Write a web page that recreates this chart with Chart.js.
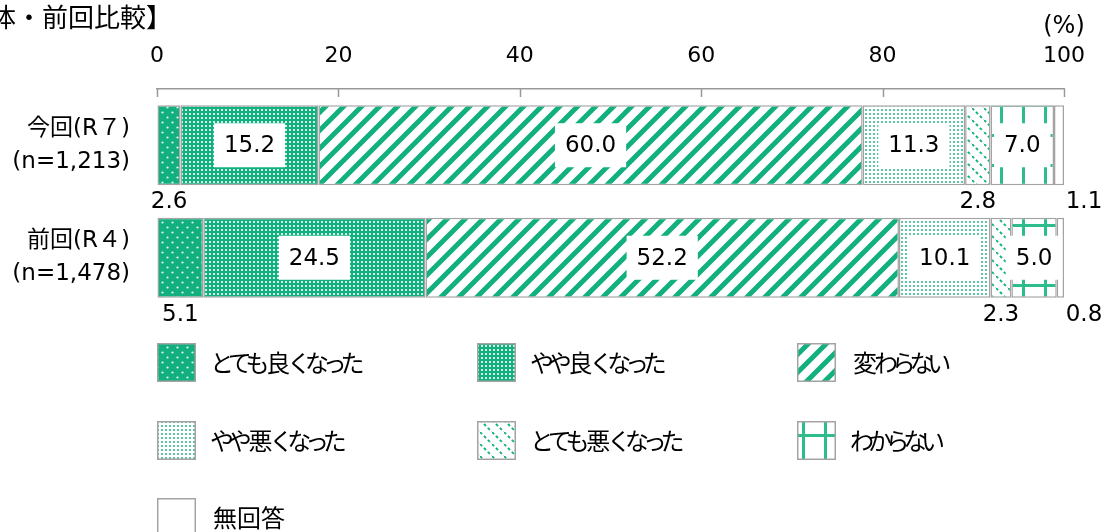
<!DOCTYPE html>
<html>
<head>
<meta charset="utf-8">
<script src="https://cdn.jsdelivr.net/npm/chart.js@4/dist/chart.umd.min.js"></script>
<style>
  html, body { margin: 0; padding: 0; background: #fff; }
  #wrap { width: 1110px; height: 532px; }
</style>
</head>
<body>
<div id="wrap"><canvas id="chart" width="1110" height="532"></canvas></div>
<script>
// data
var categories = [["今回(R７)", "(n=1,213)"], ["前回(R４)", "(n=1,478)"]];
var seriesNames = ["とても良くなった", "やや良くなった", "変わらない", "やや悪くなった", "とても悪くなった", "わからない", "無回答"];
var veryGood = [2.6, 5.1];
var slightlyGood = [15.2, 24.5];
var noChange = [60.0, 52.2];
var slightlyBad = [11.3, 10.1];
var veryBad = [2.8, 2.3];
var dontKnow = [7.0, 5.0];
var noAnswer = [1.1, 0.8];
var xTicks = [0, 20, 40, 60, 80, 100];

var GREEN = "#12b07e";
var FONT_NUM = '"DejaVu Sans", "Noto Sans CJK JP", sans-serif';
var FONT_JP = '"Noto Sans CJK JP", "DejaVu Sans", sans-serif';

function makePattern(kind) {
  var c = document.createElement("canvas");
  var ctx, s;
  if (kind == "dotsSparse") {
    c.width = 10; c.height = 10;
    ctx = c.getContext("2d");
    ctx.fillStyle = GREEN; ctx.fillRect(0, 0, 10, 10);
    ctx.fillStyle = "#e8f7f1";
    ctx.beginPath(); ctx.arc(2.5, 2.5, 1.1, 0, Math.PI * 2); ctx.fill();
    ctx.beginPath(); ctx.arc(7.5, 7.5, 1.1, 0, Math.PI * 2); ctx.fill();
  } else if (kind == "dotsDense") {
    c.width = 4; c.height = 4;
    ctx = c.getContext("2d");
    ctx.fillStyle = GREEN; ctx.fillRect(0, 0, 4, 4);
    ctx.fillStyle = "rgba(235,250,244,0.9)";
    ctx.fillRect(1, 1, 2, 2);
  } else if (kind == "stripes") {
    s = 18;
    c.width = s; c.height = s;
    ctx = c.getContext("2d");
    ctx.fillStyle = "#fff"; ctx.fillRect(0, 0, s, s);
    ctx.strokeStyle = GREEN; ctx.lineWidth = 5;
    ctx.beginPath();
    for (var k = -1; k <= 1; k++) {
      ctx.moveTo(k * s - 2, s + 2);
      ctx.lineTo(k * s + s + 2, -2);
    }
    ctx.stroke();
  } else if (kind == "dotsLight") {
    c.width = 4; c.height = 4;
    ctx = c.getContext("2d");
    ctx.fillStyle = "#fff"; ctx.fillRect(0, 0, 4, 4);
    ctx.fillStyle = "#5cc9a2";
    ctx.fillRect(1, 1, 2, 2);
  } else if (kind == "dashDiag") {
    s = 12;
    c.width = s; c.height = s;
    ctx = c.getContext("2d");
    ctx.fillStyle = "#fff"; ctx.fillRect(0, 0, s, s);
    ctx.strokeStyle = GREEN; ctx.lineWidth = 1.8;
    ctx.setLineDash([3, 2.5]);
    ctx.beginPath();
    ctx.moveTo(0, 0); ctx.lineTo(s, s);
    ctx.stroke();
  } else if (kind == "grid") {
    c.width = 22; c.height = 30;
    ctx = c.getContext("2d");
    ctx.fillStyle = "#fff"; ctx.fillRect(0, 0, 22, 30);
    ctx.fillStyle = "#2dbd8a";
    ctx.fillRect(10, 0, 3, 30);
    ctx.fillRect(0, 14, 22, 3);
  } else {
    c.width = 4; c.height = 4;
    ctx = c.getContext("2d");
    ctx.fillStyle = "#fff"; ctx.fillRect(0, 0, 4, 4);
  }
  return document.getElementById("chart").getContext("2d").createPattern(c, "repeat");
}

var patterns = [
  makePattern("dotsSparse"),
  makePattern("dotsDense"),
  makePattern("stripes"),
  makePattern("dotsLight"),
  makePattern("dashDiag"),
  makePattern("grid"),
  makePattern("none")
];
// which series get the boxed label inside the bar
var insideLabel = [false, true, true, true, false, true, false];

var seriesValues = [veryGood, slightlyGood, noChange, slightlyBad, veryBad, dontKnow, noAnswer];
var datasets = [];
seriesValues.forEach((vals, i) => {
  datasets.push({
    label: seriesNames[i],
    data: vals,
    backgroundColor: patterns[i],
    borderColor: "#a3a3a3",
    borderWidth: 1.5,
    borderSkipped: false,
    barPercentage: 0.71,
    categoryPercentage: 1.0
  });
});

// kana drawn narrower, like a proportional Japanese UI font
function drawJP(ctx, text, x, y, size) {
  ctx.font = size + "px " + FONT_JP;
  ctx.textAlign = "center";
  for (var ch of text) {
    var code = ch.charCodeAt(0);
    var kana = code >= 0x3040 && code <= 0x30ff;
    var adv = kana ? size * 0.74 : ctx.measureText(ch).width;
    ctx.fillText(ch, x + adv / 2, y);
    x += adv;
  }
}

var extrasPlugin = {
  id: "extras",
  afterDatasetsDraw(chart) {
    var ctx = chart.ctx;
    ctx.save();
    ctx.font = "23px " + FONT_NUM;
    ctx.textAlign = "center";
    ctx.textBaseline = "middle";
    chart.data.datasets.forEach((ds, i) => {
      var meta = chart.getDatasetMeta(i);
      meta.data.forEach((bar, j) => {
        var p = bar.getProps(["x", "y", "base", "height"], true);
        var txt = ds.data[j].toFixed(1);
        var cx = (p.base + p.x) / 2;
        if (insideLabel[i]) {
          var w = ctx.measureText(txt).width + 20;
          ctx.fillStyle = "#fff";
          ctx.fillRect(cx - w / 2, p.y - 22, w, 44);
          ctx.fillStyle = "#000";
          ctx.fillText(txt, cx, p.y + 1);
        } else {
          var lx = cx;
          if (i == chart.data.datasets.length - 1) lx = p.x + 20;
          ctx.fillStyle = "#000";
          ctx.fillText(txt, lx, p.y + p.height / 2 + 17);
        }
      });
    });
    ctx.restore();
  },
  afterDraw(chart) {
    var ctx = chart.ctx;
    var xs = chart.scales.x;
    var top = chart.chartArea.top;
    ctx.save();
    // tick marks pointing down from the top axis line
    ctx.strokeStyle = "#999";
    ctx.lineWidth = 1.5;
    xTicks.forEach((v) => {
      var px = Math.round(xs.getPixelForValue(v)) + 0.5;
      ctx.beginPath();
      ctx.moveTo(px, top);
      ctx.lineTo(px, top + 8);
      ctx.stroke();
    });
    // title (cut at left like the source)
    ctx.fillStyle = "#000";
    ctx.font = "26px " + FONT_JP;
    ctx.textAlign = "left";
    ctx.textBaseline = "middle";
    ctx.fillText("【全体・前回比較】", -62, 17);
    // unit
    ctx.font = "24px " + FONT_NUM;
    ctx.textAlign = "center";
    ctx.fillText("(%)", 1064, 27);
    // legend in 3 columns
    var colX = [157, 477, 797];
    var rowY = [343, 421, 498];
    seriesNames.forEach((name, i) => {
      var bx = colX[i % 3], by = rowY[Math.floor(i / 3)];
      ctx.fillStyle = patterns[i];
      ctx.fillRect(bx, by, 39, 39);
      ctx.strokeStyle = "#a3a3a3";
      ctx.lineWidth = 1.5;
      ctx.strokeRect(bx + 0.75, by + 0.75, 37.5, 37.5);
      ctx.fillStyle = "#000";
      drawJP(ctx, name, bx + 56, by + 20, 24);
    });
    ctx.restore();
  }
};

new Chart(document.getElementById("chart"), {
  type: "bar",
  data: {
    labels: categories,
    datasets: datasets
  },
  options: {
    indexAxis: "y",
    responsive: false,
    animation: false,
    layout: { padding: { left: 0, right: 46, top: 0, bottom: 218 } },
    plugins: {
      legend: { display: false },
      title: { display: false },
      tooltip: { enabled: false }
    },
    scales: {
      x: {
        position: "top",
        stacked: true,
        min: 0,
        max: 100,
        afterFit: function(scale) { scale.height = 89; },
        afterBuildTicks: function(scale) { scale.ticks = xTicks.map((v) => ({ value: v })); },
        grid: { display: true, drawOnChartArea: false, drawTicks: false },
        border: { display: true, color: "#999", width: 1.5 },
        ticks: {
          color: "#000",
          padding: 20,
          font: { size: 22, family: FONT_NUM }
        }
      },
      y: {
        stacked: true,
        afterFit: function(scale) { scale.width = 157; },
        grid: { display: false, drawTicks: false },
        border: { display: false },
        ticks: {
          color: "#000",
          padding: 27,
          font: { size: 23, family: FONT_NUM, lineHeight: 1.45 }
        }
      }
    }
  },
  plugins: [extrasPlugin]
});
</script>
</body>
</html>
